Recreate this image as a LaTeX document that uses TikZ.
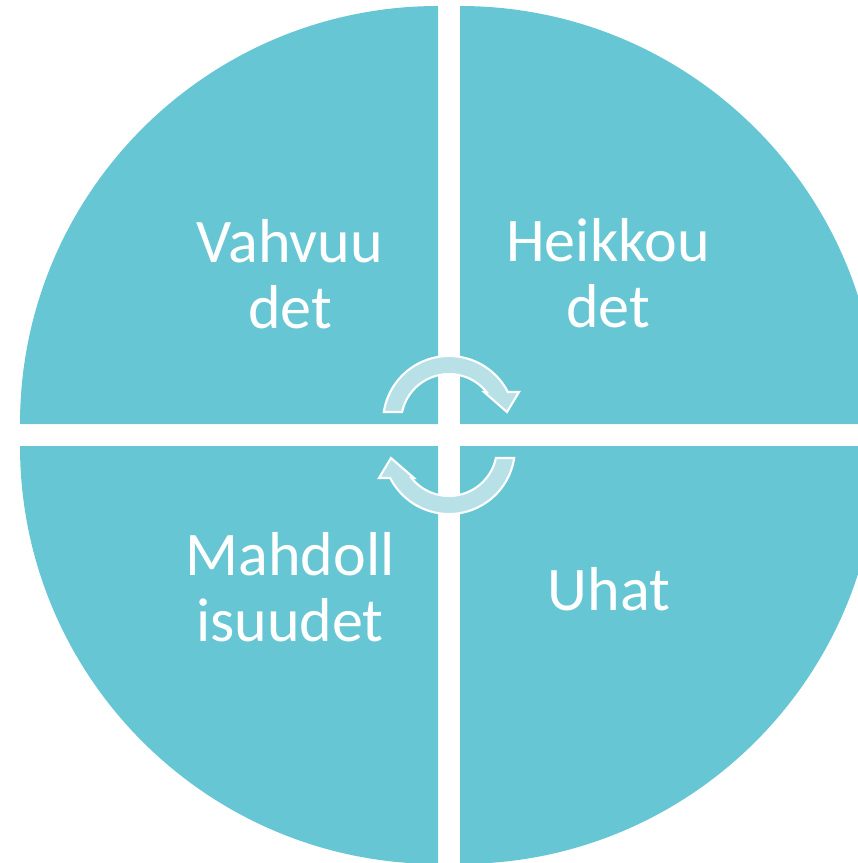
\documentclass[tikz,border=0pt]{standalone}
\usepackage{fontspec}
\setmainfont{Carlito}
\definecolor{swotteal}{RGB}{103,198,211}
\definecolor{swotpale}{RGB}{184,224,231}
\begin{document}
\begin{tikzpicture}[
		x=0.02cm, y=-0.02cm,
		quad/.style={fill=swotteal},
		label/.style={text=white, align=center, anchor=base, font=\fontsize{35.3}{37.5}\selectfont},
		cyclearrow/.style={fill=swotpale, draw=white, line width=1.2pt, line join=miter}
	]
		\useasboundingbox (0,0) rectangle (858,863);
		\clip (0,0) rectangle (858,863);

		\fill[quad] (438,424) -- (20,424) arc[start angle=180, end angle=270, radius=418] -- cycle;
		\fill[quad] (460,424) -- (878,424) arc[start angle=0, end angle=-90, radius=418] -- cycle;
		\fill[quad] (438,446) -- (20,446) arc[start angle=180, end angle=90, radius=418] -- cycle;
		\fill[quad] (460,446) -- (878,446) arc[start angle=0, end angle=90, radius=418] -- cycle;

		\node[label] (vahvuudet) at (290,328) {Vahvuu\\det};
		\node[label] (heikkoudet) at (608,327) {Heikkou\\det};
		\node[label] (mahdollisuudet) at (290,641) {Mahdoll\\isuudet};
		\node[label] (uhat) at (609,610) {Uhat};

		% the two turning arrows in the middle
		\foreach \r in {0,180}
			\path[cyclearrow, rotate around={\r:(449,435)}]
				(383.8,412) arc[start angle=188.7, end angle=333, radius=66]
				-- (519,392) -- (507,412) -- (484,392) -- (486.5,392)
				arc[start angle=321.3, end angle=192, radius=48] -- cycle;
	\end{tikzpicture}
\end{document}
